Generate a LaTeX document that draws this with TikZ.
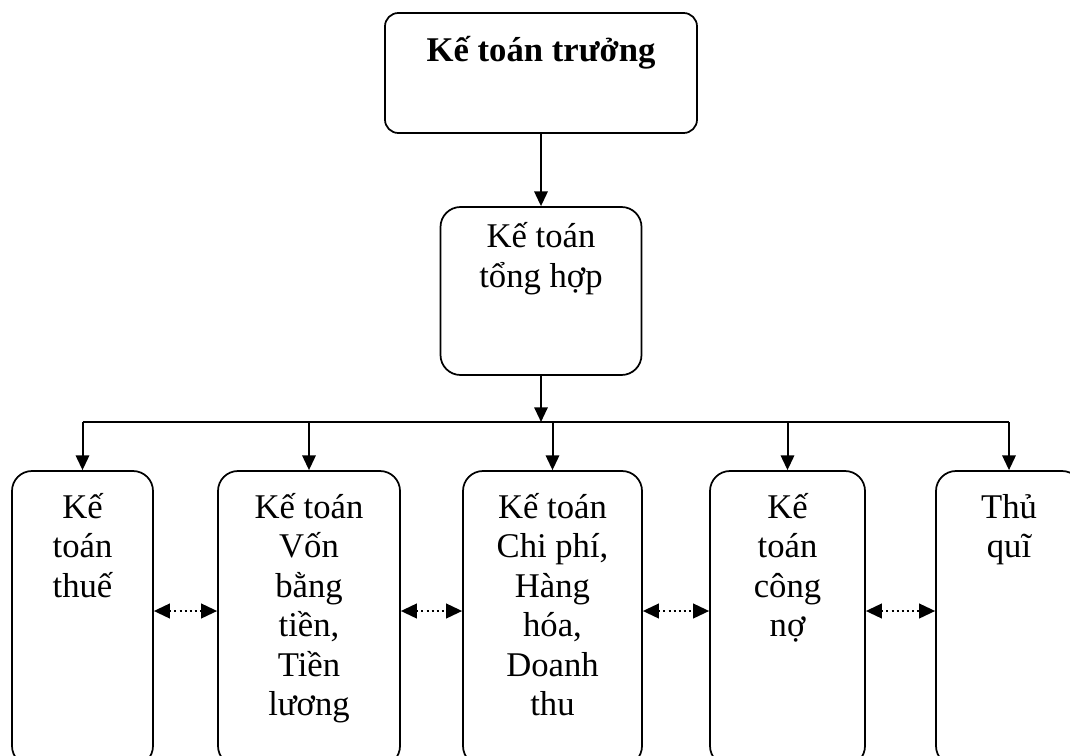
\documentclass[tikz,border=0pt]{standalone}
\usepackage{fontspec}
\setmainfont{Liberation Serif}
\usetikzlibrary{arrows.meta}
% fixed-height strut so every text block starts at the same baseline
\newcommand{\firstline}{\rule{0pt}{24pt}}
\begin{document}
\begin{tikzpicture}[x=0.75pt,y=-0.75pt,
  box/.style={draw, line width=1.3pt, rounded corners=15pt, inner sep=0pt},
  topbox/.style={box, rounded corners=10pt},
  txt/.style={anchor=north, inner sep=0pt, align=center,
    font=\fontsize{26}{29.6}\selectfont},
  conn/.style={line width=1.5pt},
  arr/.style={conn, -{Triangle[length=11pt,width=10pt]}},
  dotarr/.style={line width=1.5pt, dash pattern=on 1.5pt off 2.3pt,
    {Triangle[length=12pt,width=11pt]}-{Triangle[length=12pt,width=11pt]}}
]
\useasboundingbox (0,0) rectangle (1070,756);

% head of the department
\node[topbox, minimum width=234pt, minimum height=90pt] (T) at (541,73) {};
\node[txt, font=\fontsize{26}{29.6}\selectfont\bfseries] (tT) at ([yshift=-12.5pt]T.north) {\firstline Kế toán trưởng};

% general accountant
\node[box, minimum width=150.75pt, minimum height=126pt] (G) at (541,291) {};
\node[txt] (tG) at ([yshift=-7pt]G.north) {\firstline Kế toán\\tổng hợp};

% specialised accountants
\node[box, minimum width=105.75pt, minimum height=221.25pt] (A) at (82.5,618.5) {};
\node[box, minimum width=136.5pt, minimum height=221.25pt] (B) at (309,618.5) {};
\node[box, minimum width=134.25pt, minimum height=221.25pt] (C) at (552.5,618.5) {};
\node[box, minimum width=116.25pt, minimum height=221.25pt] (D) at (787.5,618.5) {};
\node[box, minimum width=109.5pt, minimum height=221.25pt] (E) at (1009,618.5) {};

\node[txt] (tA) at ([yshift=-12pt]A.north) {\firstline Kế\\toán\\thuế};
\node[txt] (tB) at ([yshift=-12pt]B.north) {\firstline Kế toán\\Vốn\\bằng\\tiền,\\Tiền\\lương};
\node[txt] (tC) at ([yshift=-12pt]C.north) {\firstline Kế toán\\Chi phí,\\Hàng\\hóa,\\Doanh\\thu};
\node[txt] (tD) at ([yshift=-12pt]D.north) {\firstline Kế\\toán\\công\\nợ};
\node[txt] (tE) at ([yshift=-12pt]E.north) {\firstline Thủ\\quĩ};

% hierarchy connectors
\coordinate (bus) at (0,422);
\coordinate (row) at (0,611);
\draw[arr] (T.south) -- (G.north);
\draw[arr] (G.south) -- (bus -| G.south);
\draw[conn] (bus -| A.north) -- (bus -| E.north);
\foreach \n in {A,B,C,D,E} \draw[arr] (bus -| \n.north) -- (\n.north);

% cooperation between neighbours
\draw[dotarr] (A.east |- row) -- (B.west |- row);
\draw[dotarr] (B.east |- row) -- (C.west |- row);
\draw[dotarr] (C.east |- row) -- (D.west |- row);
\draw[dotarr] (D.east |- row) -- (E.west |- row);
\end{tikzpicture}
\end{document}
